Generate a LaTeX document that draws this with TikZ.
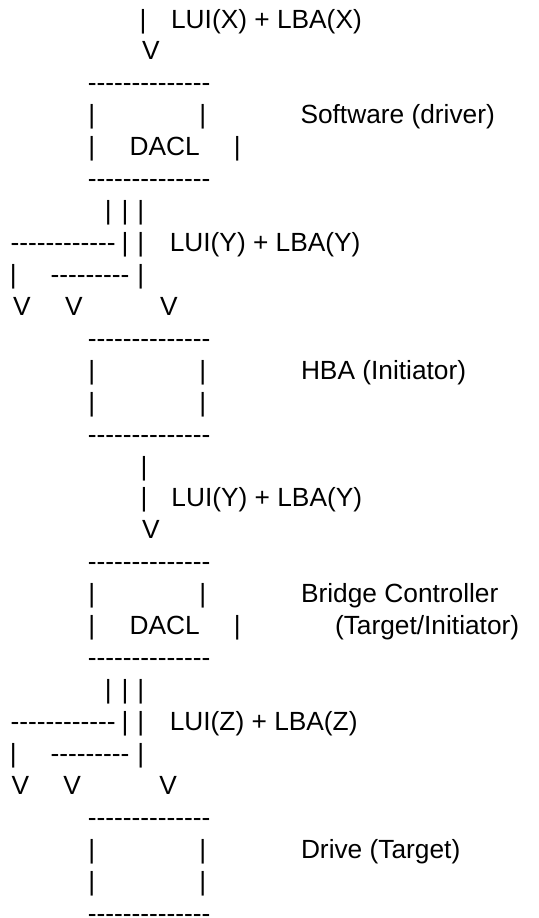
\documentclass[tikz,border=0pt]{standalone}
\usepackage{fontspec}
\setmainfont{Liberation Sans}
\usepackage{tikz}
\newcommand\dashrow[1]{\foreach \k in {1,...,#1}{-}}
\tikzset{
  ascii/.style={anchor=base west, inner sep=0pt, outer sep=0pt,
    font=\fontsize{26.3}{31.9}\selectfont},
}

\begin{document}
\begin{tikzpicture}[x=1pt, y=-1pt]
    \useasboundingbox (0,0) rectangle (538,918);
    % Entree vers le driver
    \node[ascii] (a1bar) at (139.6,28.0)  {|};
    \node[ascii] (a1lab) at (171.1,28.0)  {LUI(X) + LBA(X)};
    \node[ascii] (a1v)   at (142.0,59.9)  {V};
    % Software (driver)
    \node[ascii] (swtop)  at (87.8,91.9)   {\dashrow{14}};
    \node[ascii] (swl1)   at (88.3,123.8)  {|};
    \node[ascii] (swr1)   at (199.3,123.8) {|};
    \node[ascii] (swlab)  at (300.5,123.8) {Software (driver)};
    \node[ascii] (swl2)   at (88.3,155.7)  {|};
    \node[ascii] (swdacl) at (129.6,155.7) {DACL};
    \node[ascii] (swr2)   at (233.9,155.7) {|};
    \node[ascii] (swbot)  at (87.8,187.7)  {\dashrow{14}};
    % Eventail Y
    \node[ascii] (f1b1)  at (104.9,219.6) {|};
    \node[ascii] (f1b2)  at (121.6,219.6) {|};
    \node[ascii] (f1b3)  at (137.3,219.6) {|};
    \node[ascii] (f1d1)  at (10.5,251.5)  {\dashrow{12}};
    \node[ascii] (f1b4)  at (121.6,251.5) {|};
    \node[ascii] (f1b5)  at (137.3,251.5) {|};
    \node[ascii] (f1lab) at (169.8,251.5) {LUI(Y) + LBA(Y)};
    \node[ascii] (f1b6)  at (9.9,283.4)   {|};
    \node[ascii] (f1d2)  at (50.5,283.4)  {\dashrow{9}};
    \node[ascii] (f1b7)  at (137.3,283.4) {|};
    \node[ascii] (f1v1)  at (13.0,315.4)  {V};
    \node[ascii] (f1v2)  at (65.0,315.4)  {V};
    \node[ascii] (f1v3)  at (160.0,315.4) {V};
    % HBA (Initiator)
    \node[ascii] (hbatop) at (87.8,347.3)  {\dashrow{14}};
    \node[ascii] (hbal1)  at (88.3,379.2)  {|};
    \node[ascii] (hbar1)  at (199.3,379.2) {|};
    \node[ascii] (hbalab) at (301.0,379.2) {HBA (Initiator)};
    \node[ascii] (hbal2)  at (88.3,411.2)  {|};
    \node[ascii] (hbar2)  at (199.3,411.2) {|};
    \node[ascii] (hbabot) at (87.8,443.1)  {\dashrow{14}};
    % HBA vers bridge
    \node[ascii] (a2bar1) at (140.6,475.0) {|};
    \node[ascii] (a2bar2) at (140.6,506.9) {|};
    \node[ascii] (a2lab)  at (171.4,506.9) {LUI(Y) + LBA(Y)};
    \node[ascii] (a2v)    at (142.0,538.8) {V};
    % Bridge Controller
    \node[ascii] (brtop)  at (87.8,570.8)  {\dashrow{14}};
    \node[ascii] (brl1)   at (88.3,602.7)  {|};
    \node[ascii] (brr1)   at (199.3,602.7) {|};
    \node[ascii] (brlab)  at (301.1,602.7) {Bridge Controller};
    \node[ascii] (brl2)   at (88.3,634.6)  {|};
    \node[ascii] (brdacl) at (129.6,634.6) {DACL};
    \node[ascii] (brr2)   at (233.9,634.6) {|};
    \node[ascii] (brrole) at (335.0,634.6) {(Target/Initiator)};
    \node[ascii] (brbot)  at (87.8,666.6)  {\dashrow{14}};
    % Eventail Z
    \node[ascii] (f2b1)  at (104.9,698.5) {|};
    \node[ascii] (f2b2)  at (121.6,698.5) {|};
    \node[ascii] (f2b3)  at (137.3,698.5) {|};
    \node[ascii] (f2d1)  at (10.5,730.4)  {\dashrow{12}};
    \node[ascii] (f2b4)  at (121.6,730.4) {|};
    \node[ascii] (f2b5)  at (137.3,730.4) {|};
    \node[ascii] (f2lab) at (169.8,730.4) {LUI(Z) + LBA(Z)};
    \node[ascii] (f2b6)  at (9.9,762.4)   {|};
    \node[ascii] (f2d2)  at (50.5,762.4)  {\dashrow{9}};
    \node[ascii] (f2b7)  at (137.3,762.4) {|};
    \node[ascii] (f2v1)  at (11.7,794.3)  {V};
    \node[ascii] (f2v2)  at (63.3,794.3)  {V};
    \node[ascii] (f2v3)  at (159.3,794.3) {V};
    % Drive (Target)
    \node[ascii] (drtop) at (87.8,826.2)  {\dashrow{14}};
    \node[ascii] (drl1)  at (88.3,858.2)  {|};
    \node[ascii] (drr1)  at (199.3,858.2) {|};
    \node[ascii] (drlab) at (301.0,858.2) {Drive (Target)};
    \node[ascii] (drl2)  at (88.3,890.1)  {|};
    \node[ascii] (drr2)  at (199.3,890.1) {|};
    \node[ascii] (drbot) at (87.8,922.0)  {\dashrow{14}};
  \end{tikzpicture}
\end{document}
